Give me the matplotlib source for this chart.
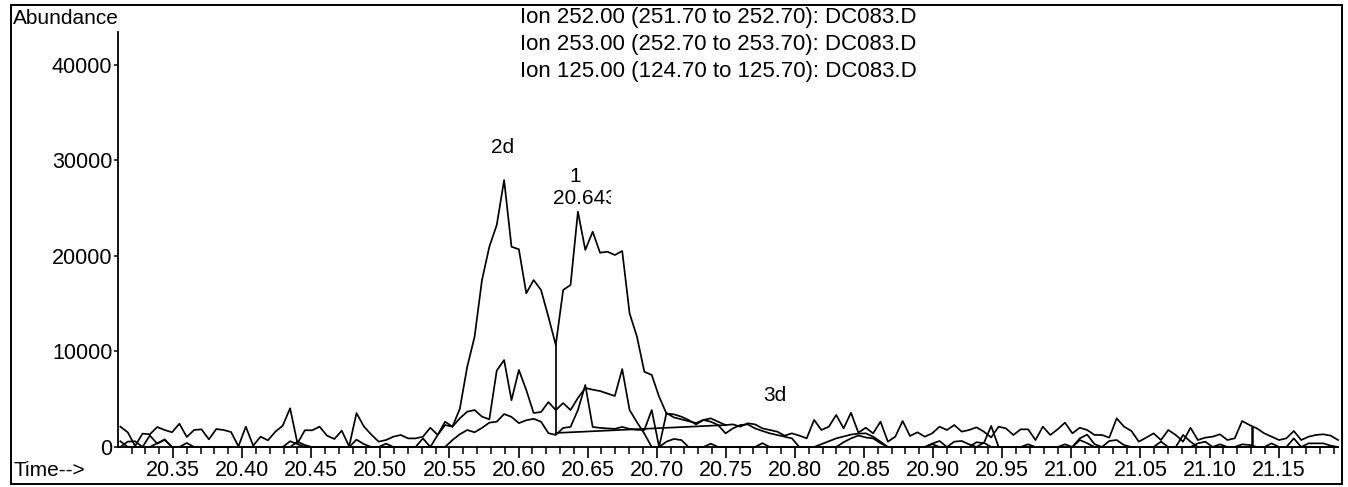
import matplotlib
matplotlib.use('Agg')
import matplotlib.pyplot as plt
from matplotlib.patches import Rectangle
from matplotlib.ticker import MultipleLocator
from matplotlib.transforms import Bbox, TransformedBbox
import numpy as np

plt.rcParams['font.family'] = ['Liberation Sans', 'DejaVu Sans']

# scan grid (min)
t_start = 20.3119
t_step = 0.00534

# ion traces, abundance per scan
ion252 = [2130, 1540, 100, 1400, 1330, 2090, 1780, 1540, 2440, 1050,
          1780, 1850, 800, 1880, 1780, 1570, 70, 2130, 140, 1080,
          700, 1600, 2230, 4050, 380, 1750, 1750, 2130, 1190, 840,
          1710, 70, 3550, 2150, 1300, 560, 730, 1080, 1260, 900,
          900, 1080, 2020, 1260, 2650, 2130, 4000, 8400, 11550, 17480,
          20970, 23240, 27950, 20970, 20700, 16090, 17480, 16440, 13640, 10680,
          16440, 16960, 24640, 20630, 22540, 20340, 20450, 20100, 20520, 14000,
          11550, 7880, 7540, 5270, 3500, 3420, 3180, 2830, 2370, 2830,
          3000, 2650, 2300, 2370, 2130, 2480, 2370, 1950, 1780, 1610,
          1190, 1430, 1190, 910, 2830, 1780, 2130, 3350, 1950, 3590,
          1500, 2020, 1430, 2650, 560, 1080, 2720, 1150, 1540, 1080,
          1430, 2130, 1780, 2300, 1610, 1780, 2060, 1610, 1000, 2130,
          1950, 1260, 1850, 1850, 730, 2130, 1260, 1850, 2550, 1430,
          2020, 1780, 1260, 1260, 980, 3000, 2130, 1680, 560, 980,
          1430, 730, 1780, 1260, 560, 2020, 730, 980, 1080, 1330,
          730, 910, 2720, 2300, 1950, 1430, 1080, 730, 910, 1680,
          730, 1080, 1260, 1330, 1190, 730]

ion253 = [600, 0, 0, 0, 1200, 350, 800, 0, 0, 0,
          0, 0, 0, 0, 0, 0, 0, 0, 0, 0,
          0, 0, 0, 600, 300, 0, 0, 0, 0, 0,
          0, 0, 770, 300, 0, 0, 0, 0, 0, 0,
          0, 900, 0, 1260, 2300, 2130, 3000, 3700, 3870, 3180,
          2900, 8000, 9100, 4900, 8060, 5970, 3560, 3660, 4700, 3870,
          4600, 3870, 5130, 6180, 6000, 5860, 5600, 5340, 8160, 3870,
          2600, 1400, 0, 0, 560, 840, 730, 0, 0, 0,
          350, 0, 0, 0, 0, 0, 0, 400, 0, 0,
          0, 0, 0, 0, 0, 300, 600, 900, 1100, 1300,
          1400, 1430, 1080, 560, 0, 0, 0, 0, 0, 0,
          350, 630, 0, 560, 630, 280, 0, 450, 0, 0,
          0, 0, 0, 280, 0, 0, 0, 0, 0, 0,
          900, 1300, 300, 0, 0, 0, 0, 0, 0, 0,
          0, 560, 0, 0, 0, 0, 380, 560, 0, 0,
          0, 0, 280, 210, 0, 0, 0, 0, 0, 900,
          0, 0, 0, 0, 0, 0]

ion125 = [0, 560, 600, 0, 0, 400, 730, 0, 0, 420,
          0, 0, 0, 0, 0, 0, 0, 0, 0, 0,
          0, 0, 0, 0, 560, 200, 0, 0, 0, 0,
          0, 0, 0, 0, 0, 0, 350, 0, 0, 0,
          0, 0, 0, 0, 0, 730, 1330, 1780, 1540, 2000,
          2550, 2650, 3450, 3150, 2500, 2800, 2950, 2650, 1450, 1260,
          2000, 2100, 3870, 6490, 2100, 2000, 1950, 1900, 2100, 1900,
          1800, 1780, 3870, 0, 3560, 3100, 2900, 2700, 2500, 2830,
          2650, 2300, 1430, 1950, 2300, 2370, 1950, 1680, 1430, 1260,
          1080, 900, 0, 0, 0, 0, 0, 0, 500, 900,
          1200, 1000, 900, 400, 0, 0, 0, 0, 0, 0,
          300, 0, 0, 0, 0, 0, 500, 400, 2200, 0,
          0, 0, 0, 0, 0, 0, 0, 0, 280, 0,
          730, 400, 0, 0, 630, 730, 200, 0, 0, 0,
          0, 0, 0, 0, 1260, 560, 0, 0, 0, 280,
          0, 0, 0, 0, 0, 0, 380, 0, 0, 0,
          0, 380, 380, 380, 140, 0]

# integration marks
valley_scan = 59
base_t_end = 20.75
base_y = [1470, 2300]
mark_t = 21.131
mark_top = 2060

x_labels = ['20.35', '20.40', '20.45', '20.50', '20.55', '20.60', '20.65', '20.70',
            '20.75', '20.80', '20.85', '20.90', '20.95', '21.00', '21.05', '21.10', '21.15']
y_ticks = [0, 10000, 20000, 30000, 40000]

titles = ['Ion 252.00 (251.70 to 252.70): DC083.D',
          'Ion 253.00 (252.70 to 253.70): DC083.D',
          'Ion 125.00 (124.70 to 125.70): DC083.D']

time = t_start + t_step * np.arange(len(ion252))

W, H = 1348, 487
fig = plt.figure(figsize=(W / 100, H / 100), dpi=100)
ax = fig.add_axes([118 / W, 40 / H, 1218 / W, 415 / H])

for trace in (ion252, ion253, ion125):
    ax.plot(time, trace, color='black', lw=1.25, clip_on=False)

tv = time[valley_scan]
ax.plot([tv, tv], [ion252[valley_scan], base_y[0]], color='black', lw=1.25)
ax.plot([tv, base_t_end], base_y, color='black', lw=1.25)
ax.plot([mark_t, mark_t], [0, mark_top], color='black', lw=1.8)

ax.set_xlim(20.3102, 21.1915)
ax.set_ylim(0, 43450)

ax.spines['top'].set_visible(False)
ax.spines['right'].set_visible(False)
ax.spines['left'].set_linewidth(1.3)
ax.spines['bottom'].set_linewidth(1.3)

ax.set_xticks([float(s) for s in x_labels])
ax.set_xticklabels(x_labels)
ax.xaxis.set_minor_locator(MultipleLocator(0.01))
ax.tick_params(axis='x', which='major', direction='out', length=8, width=1.2,
               pad=1, labelsize=15.5)
ax.tick_params(axis='x', which='minor', direction='out', length=5, width=1.1)
ax.set_yticks(y_ticks)
ax.set_yticklabels([str(v) for v in y_ticks])
ax.tick_params(axis='y', direction='out', length=3, width=1.1, pad=1, labelsize=15.5)

# peak labels
ax.text(20.5888, 31400, '2d', ha='center', va='center', fontsize=15)
ax.text(20.6409, 28370, '1', ha='center', va='center', fontsize=15)
rt = ax.text(20.625, 26070, '20.643', ha='left', va='center', fontsize=15)
rt.set_clip_box(TransformedBbox(Bbox([[20.6, 20000], [20.667, 32000]]), ax.transData))
rt.set_clip_on(True)
ax.text(20.7856, 5340, '3d', ha='center', va='center', fontsize=15)

# outer frame and header
fig.add_artist(Rectangle((11 / W, 3 / H), 1331 / W, 479 / H, transform=fig.transFigure,
                         fill=False, ec='black', lw=1.4))
fig.text(13 / W, 1 - 18 / H, 'Abundance', ha='left', va='center', fontsize=15)
fig.text(13 / W, 1 - 470 / H, 'Time-->', ha='left', va='center', fontsize=15)
for k, s in enumerate(titles):
    fig.text(718 / W, 1 - (18 + 26.5 * k) / H, s, ha='center', va='center', fontsize=16)

fig.savefig('out.png', dpi=100)
